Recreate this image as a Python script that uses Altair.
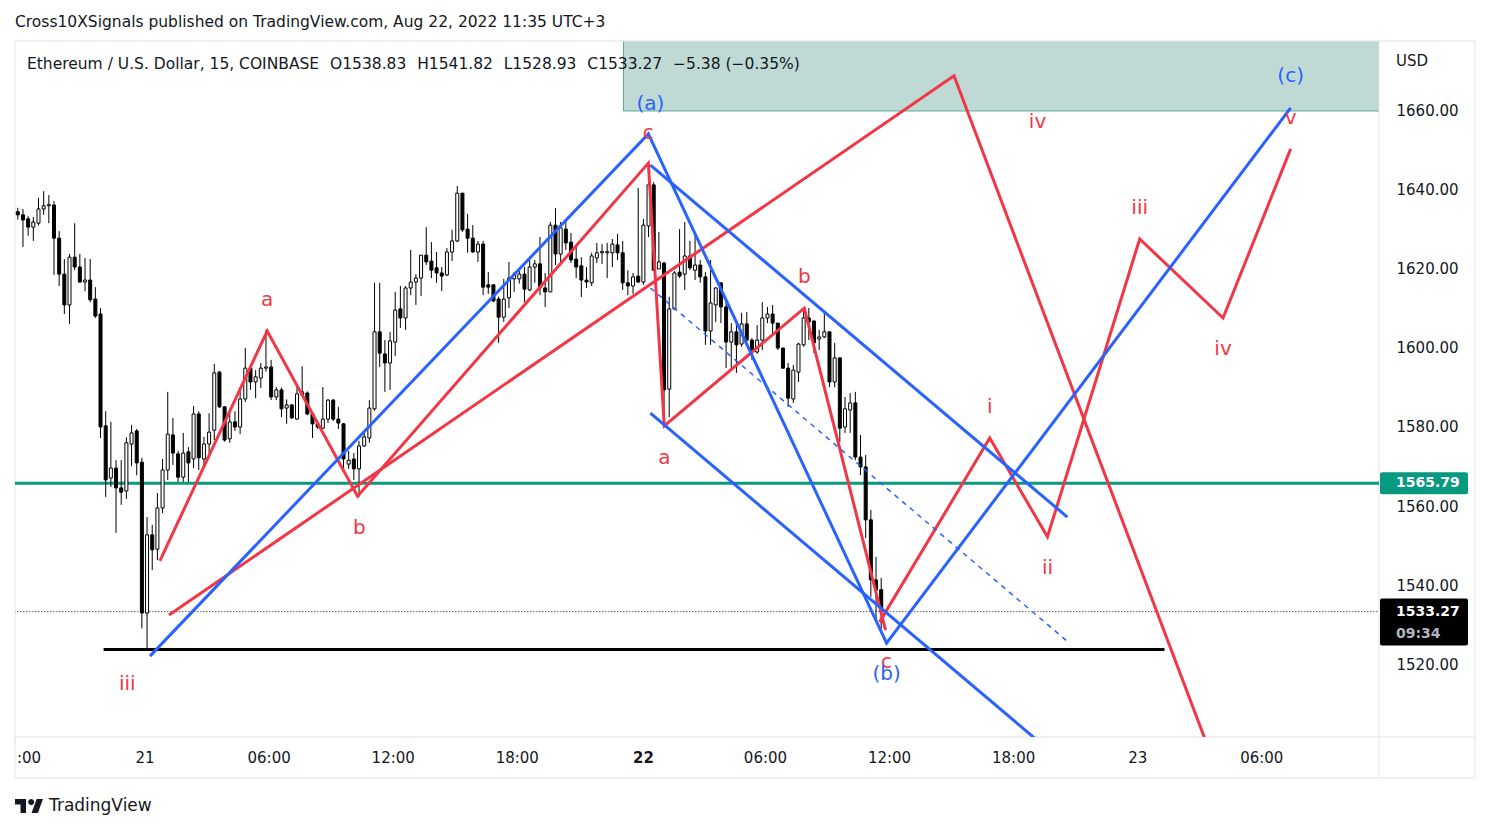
import altair as alt
import pandas as pd

# ---------------- data ----------------
# 15-minute candles, first bar Aug 20 17:45 (UTC+3); time in hours relative to Aug 21 00:00
FIRST_BAR_HOUR = -6.25
BAR_HOURS = 0.25

opens = [1634.5, 1633.7, 1632.7, 1630.6, 1631.6, 1635.2, 1636.0, 1636.2, 1627.8, 1618.7,
         1610.9, 1623.0, 1620.5, 1616.7, 1617.2, 1612.4, 1608.6, 1580.3, 1567.1, 1569.6,
         1564.6, 1563.8, 1575.7, 1579.0, 1571.1, 1532.9, 1552.7, 1549.1, 1559.5, 1569.1,
         1578.0, 1573.2, 1567.3, 1573.7, 1571.9, 1583.3, 1571.9, 1575.7, 1579.2, 1593.9,
         1585.1, 1577.0, 1581.3, 1580.0, 1587.1, 1594.9, 1591.4, 1592.4, 1594.9, 1595.2,
         1587.6, 1589.4, 1584.8, 1585.6, 1582.0, 1588.1, 1588.6, 1583.3, 1580.8, 1579.7,
         1582.0, 1586.8, 1582.0, 1580.8, 1570.6, 1571.9, 1569.4, 1575.2, 1577.2, 1584.6,
         1604.1, 1598.5, 1596.2, 1601.5, 1609.9, 1607.6, 1615.2, 1616.7, 1617.7, 1623.5,
         1622.0, 1620.3, 1619.0, 1618.5, 1624.3, 1627.1, 1639.2, 1630.1, 1627.8, 1624.3,
         1626.3, 1616.0, 1616.0, 1612.4, 1607.8, 1612.7, 1617.5, 1617.5, 1618.7, 1614.7,
         1620.5, 1621.3, 1615.2, 1614.2, 1631.1, 1623.8, 1630.1, 1626.8, 1622.5, 1620.8,
         1617.2, 1616.5, 1622.8, 1624.1, 1624.1, 1624.1, 1626.1, 1624.1, 1616.5, 1615.7,
         1618.2, 1616.7, 1630.9, 1641.3, 1620.0, 1621.5, 1589.6, 1609.9, 1619.2, 1618.7,
         1623.3, 1619.7, 1621.0, 1618.0, 1604.3, 1610.9, 1616.5, 1610.4, 1601.5, 1604.1,
         1601.0, 1606.1, 1602.0, 1599.0, 1602.0, 1607.6, 1608.6, 1606.3, 1600.0, 1594.9,
         1587.1, 1593.9, 1600.8, 1607.6, 1606.8, 1602.3, 1602.8, 1604.1, 1591.4, 1597.5,
         1580.0, 1584.3, 1586.1, 1572.4, 1569.9, 1556.5, 1541.3, 1538.83]
highs = [1635.5, 1635.2, 1633.4, 1633.2, 1638.0, 1639.7, 1638.7, 1637.2, 1629.6, 1622.5,
         1623.8, 1631.6, 1623.8, 1622.8, 1622.5, 1615.4, 1610.1, 1584.0, 1581.3, 1571.6,
         1571.6, 1577.4, 1580.5, 1579.5, 1572.2, 1557.2, 1555.2, 1563.3, 1571.9, 1588.9,
         1582.3, 1574.0, 1578.5, 1574.9, 1585.3, 1584.0, 1577.5, 1583.5, 1596.0, 1594.2,
         1585.3, 1584.1, 1584.0, 1589.6, 1600.0, 1595.7, 1594.4, 1596.2, 1604.6, 1597.0,
         1590.1, 1590.0, 1587.0, 1585.8, 1590.4, 1595.4, 1589.0, 1583.5, 1581.5, 1590.1,
         1587.1, 1587.1, 1585.1, 1581.0, 1573.9, 1573.4, 1576.5, 1578.7, 1586.8, 1616.5,
         1616.5, 1602.0, 1604.1, 1614.2, 1615.7, 1615.7, 1624.8, 1618.7, 1623.5, 1630.6,
         1626.8, 1624.3, 1620.5, 1625.3, 1629.9, 1641.0, 1639.2, 1633.9, 1631.1, 1627.1,
         1627.1, 1619.2, 1616.0, 1613.0, 1617.5, 1621.8, 1619.2, 1619.5, 1620.5, 1622.3,
         1622.3, 1628.1, 1619.0, 1631.9, 1635.4, 1631.9, 1632.4, 1629.1, 1625.8, 1623.0,
         1620.5, 1624.1, 1626.6, 1626.3, 1626.6, 1627.6, 1628.9, 1627.1, 1619.7, 1619.0,
         1640.5, 1632.7, 1646.8, 1642.0, 1629.4, 1621.8, 1613.0, 1619.5, 1630.1, 1631.9,
         1627.1, 1629.4, 1622.3, 1619.2, 1622.3, 1615.4, 1616.5, 1612.2, 1606.3, 1606.6,
         1608.9, 1609.1, 1602.5, 1605.8, 1611.6, 1610.4, 1610.9, 1606.3, 1600.0, 1596.2,
         1595.7, 1601.3, 1610.1, 1610.1, 1607.1, 1604.6, 1609.1, 1604.1, 1601.3, 1597.5,
         1587.6, 1588.6, 1588.9, 1578.0, 1572.9, 1559.0, 1547.1, 1541.82]
lows = [1632.5, 1625.6, 1628.4, 1627.1, 1631.0, 1633.7, 1631.6, 1618.5, 1615.7, 1608.6,
        1606.1, 1619.7, 1616.5, 1614.4, 1611.6, 1607.6, 1577.2, 1562.3, 1564.8, 1553.2,
        1560.3, 1561.8, 1570.1, 1567.8, 1529.0, 1523.5, 1543.8, 1546.3, 1558.2, 1566.6,
        1570.4, 1566.1, 1566.1, 1566.1, 1569.6, 1569.1, 1569.6, 1573.2, 1576.7, 1584.8,
        1576.3, 1576.0, 1579.0, 1578.2, 1586.3, 1589.4, 1587.3, 1589.9, 1594.0, 1586.8,
        1586.8, 1582.5, 1580.8, 1582.0, 1581.8, 1588.0, 1583.0, 1577.2, 1579.5, 1579.5,
        1581.0, 1581.5, 1579.5, 1569.1, 1569.4, 1566.6, 1562.3, 1575.0, 1576.0, 1584.1,
        1595.2, 1588.9, 1589.4, 1598.0, 1605.1, 1604.6, 1613.4, 1610.9, 1613.2, 1621.0,
        1617.7, 1616.5, 1614.4, 1618.2, 1622.0, 1626.8, 1629.4, 1624.1, 1624.1, 1621.8,
        1613.4, 1613.7, 1611.6, 1601.3, 1606.6, 1610.1, 1614.2, 1616.3, 1611.6, 1614.4,
        1616.5, 1613.4, 1610.4, 1614.2, 1621.0, 1621.5, 1624.8, 1621.5, 1617.7, 1612.9,
        1615.2, 1615.7, 1621.5, 1621.3, 1617.7, 1620.5, 1622.3, 1614.7, 1613.4, 1613.7,
        1616.5, 1616.0, 1628.1, 1619.5, 1620.0, 1581.0, 1582.5, 1609.6, 1617.7, 1614.7,
        1619.7, 1617.2, 1616.5, 1600.8, 1600.8, 1606.6, 1606.3, 1594.9, 1594.4, 1593.7,
        1600.3, 1601.5, 1597.0, 1598.5, 1599.5, 1606.3, 1603.5, 1599.5, 1594.7, 1585.1,
        1586.1, 1591.4, 1600.3, 1602.0, 1598.7, 1599.5, 1602.5, 1590.1, 1590.1, 1576.2,
        1578.5, 1578.5, 1571.6, 1567.8, 1551.9, 1537.0, 1531.1, 1528.93]
closes = [1633.7, 1632.4, 1630.6, 1631.9, 1635.2, 1636.0, 1636.2, 1627.8, 1618.7, 1610.9,
          1623.0, 1620.5, 1616.7, 1617.2, 1612.2, 1608.1, 1580.0, 1566.6, 1569.6, 1564.6,
          1563.5, 1576.0, 1578.5, 1570.9, 1532.9, 1552.7, 1548.9, 1559.5, 1569.1, 1578.2,
          1573.4, 1567.3, 1573.4, 1570.9, 1583.3, 1572.2, 1575.7, 1578.7, 1593.7, 1585.1,
          1576.7, 1581.3, 1580.0, 1587.1, 1594.9, 1591.4, 1592.7, 1594.9, 1595.1, 1587.6,
          1589.4, 1584.6, 1585.6, 1582.3, 1588.4, 1588.9, 1583.3, 1580.8, 1580.0, 1582.0,
          1586.8, 1582.0, 1581.0, 1571.9, 1571.6, 1569.4, 1575.2, 1577.5, 1584.8, 1604.1,
          1598.7, 1596.2, 1601.8, 1609.6, 1607.6, 1615.2, 1616.7, 1617.7, 1623.5, 1621.8,
          1619.7, 1619.0, 1618.2, 1624.3, 1627.1, 1639.2, 1629.9, 1627.8, 1624.3, 1626.3,
          1615.4, 1615.4, 1611.9, 1607.8, 1612.4, 1617.7, 1618.7, 1618.7, 1614.9, 1620.5,
          1621.3, 1615.2, 1614.2, 1631.1, 1623.8, 1630.4, 1626.6, 1622.3, 1620.5, 1617.2,
          1616.7, 1623.3, 1624.1, 1624.2, 1624.2, 1626.3, 1624.1, 1616.5, 1615.7, 1618.0,
          1616.7, 1631.1, 1641.3, 1619.7, 1621.8, 1589.4, 1609.9, 1619.0, 1618.2, 1623.3,
          1620.3, 1621.0, 1618.0, 1604.3, 1611.4, 1615.2, 1610.4, 1601.5, 1604.1, 1600.8,
          1606.1, 1602.0, 1599.0, 1602.0, 1607.6, 1608.6, 1606.3, 1600.0, 1594.9, 1587.3,
          1594.4, 1601.0, 1607.6, 1606.6, 1601.3, 1602.8, 1604.1, 1591.4, 1597.5, 1579.7,
          1584.6, 1586.1, 1572.4, 1569.9, 1556.5, 1541.3, 1538.7, 1533.27]

# Elliott-wave drawings: (hour, price) vertices
red_wave_h = [0.62, 5.81, 10.18, 24.24, 25.01, 31.78, 35.71]
red_wave_p = [1546.1, 1604.3, 1562.5, 1646.8, 1580.3, 1610.1, 1528.6]
red_impulse_h = [35.42, 40.75, 43.54, 48.0, 52.03, 55.3]
red_impulse_p = [1530.6, 1577.2, 1552.2, 1627.6, 1607.6, 1650.4]
red_big_h = [1.06, 39.02, 51.23]
red_big_p = [1532.4, 1668.9, 1500.0]
blue_wave_h = [0.14, 24.24, 35.76, 55.3]
blue_wave_p = [1522.0, 1654.2, 1525.3, 1660.8]
blue_upper_h = [24.34, 44.5]
blue_upper_p = [1646.3, 1557.2]
blue_lower_h = [24.34, 43.2]
blue_lower_p = [1583.5, 1500.0]
blue_mid_h = [24.34, 44.6]
blue_mid_p = [1615.2, 1525.3]
support_h = [-2.1, 49.2]
support_p = 1523.7
green_level = 1565.79
last_close = 1533.27
zone_h = [23.04, 59.6]
zone_p = [1660.0, 1680.0]

red_labels = ["a", "b", "c", "a", "b", "c", "iii", "i", "ii", "iii", "iv", "iv", "v"]
red_label_h = [5.81, 10.27, 24.24, 25.01, 31.78, 35.76, -0.96, 40.75, 43.54, 48.0, 52.03, 43.06, 55.3]
red_label_p = [1612.2, 1554.4, 1654.4, 1572.2, 1618.0, 1520.5, 1514.9, 1585.1, 1544.3, 1635.4, 1599.7, 1657.2, 1658.2]
blue_labels = ["(a)", "(b)", "(c)"]
blue_label_h = [24.34, 35.76, 55.3]
blue_label_p = [1661.8, 1517.5, 1668.9]

price_ticks = [1520, 1540, 1560, 1580, 1600, 1620, 1640, 1660]
time_ticks = [-6, 0, 6, 12, 18, 24, 30, 36, 42, 48, 54]
time_labels = [":00", "21", "06:00", "12:00", "18:00", "22", "06:00", "12:00", "18:00", "23", "06:00"]
time_bold = [False, False, False, False, False, True, False, False, False, False, False]

header = "Cross10XSignals published on TradingView.com, Aug 22, 2022 11:35 UTC+3"
SP = "\u2002\u2009"
legend_text = ("Ethereum / U.S. Dollar, 15, COINBASE" + SP + "O1538.83" + SP + "H1541.82" + SP +
               "L1528.93" + SP + "C1533.27" + SP + "\u22125.38 (\u22120.35%)")
countdown = "09:34"

# ---------------- styling ----------------
RED = "#f23645"
BLUE = "#2962ff"
TEAL = "#089981"
INK = "#131722"
FRAME = "#e0e3eb"
FONT = "DejaVu Sans"
W, H = 1364, 696

X_DOM = [-6.144, 59.33]
Y_DOM = [1501.52, 1677.72]
xs = alt.Scale(domain=X_DOM, nice=False, zero=False)
ys = alt.Scale(domain=Y_DOM, nice=False, zero=False)
y_axis = alt.Axis(orient="right", values=price_ticks, format=".2f", ticks=False, domain=False,
                  grid=False, labelPadding=17, labelFontSize=15, labelColor=INK, labelFont=FONT,
                  title=None)

# ---------------- tables ----------------
n = len(opens)
candles = pd.DataFrame({
    "t": [FIRST_BAR_HOUR + i * BAR_HOURS for i in range(n)],
    "open": opens, "high": highs, "low": lows, "close": closes,
})
candles["dir"] = ["up" if c >= o else "down" for o, c in zip(opens, closes)]
candles["b0"] = [min(o, c) for o, c in zip(opens, closes)]
candles["b1"] = [max(max(o, c), min(o, c) + 0.3) for o, c in zip(opens, closes)]


def seg_df(name, hs, ps, color):
    return pd.DataFrame({"seg": name, "i": list(range(len(hs))), "h": hs, "p": ps, "col": color})


lines = pd.concat([
    seg_df("rw", red_wave_h, red_wave_p, RED),
    seg_df("ri", red_impulse_h, red_impulse_p, RED),
    seg_df("rb", red_big_h, red_big_p, RED),
    seg_df("bw", blue_wave_h, blue_wave_p, BLUE),
    seg_df("bu", blue_upper_h, blue_upper_p, BLUE),
    seg_df("bl", blue_lower_h, blue_lower_p, BLUE),
], ignore_index=True)
mid = seg_df("bm", blue_mid_h, blue_mid_p, BLUE)
support = pd.DataFrame({"h": support_h, "p": [support_p, support_p]})
levels = pd.DataFrame({"h": [X_DOM[0] - 1, X_DOM[1] + 1], "g": [green_level] * 2, "c": [last_close] * 2})
zone = pd.DataFrame({"h0": [zone_h[0]], "h1": [zone_h[1]], "p0": [zone_p[0]], "p1": [zone_p[1]]})
labels = pd.DataFrame({
    "txt": red_labels + blue_labels,
    "h": red_label_h + blue_label_h,
    "p": red_label_p + blue_label_p,
    "col": [RED] * len(red_labels) + [BLUE] * len(blue_labels),
})
tags = pd.DataFrame({
    "price": [green_level, last_close],
    "txt": [f"{green_level:.2f}", f"{last_close:.2f}"],
    "top": [green_level + 11 / 3.95, last_close + 13 / 3.95],
    "bot": [green_level - 11 / 3.95, last_close - 34 / 3.95],
    "col": [TEAL, "#000000"],
})
tticks = pd.DataFrame({"h": time_ticks, "txt": time_labels, "bold": time_bold})

X = lambda f: alt.X(f, scale=xs, axis=None)
Y = lambda f: alt.Y(f, scale=ys, axis=y_axis)

# ---------------- layers ----------------
zone_layer = alt.Chart(zone).mark_rect(
    fill="#bfdad5", stroke="#5fa89b", strokeWidth=1, clip=True
).encode(x=X("h0:Q"), x2="h1:Q", y=Y("p0:Q"), y2="p1:Q")

wicks = alt.Chart(candles).mark_rule(color="#000000", strokeWidth=1, clip=True).encode(
    x=X("t:Q"), y=Y("low:Q"), y2="high:Q")
bodies = alt.Chart(candles).mark_bar(size=3, stroke="#000000", strokeWidth=1, clip=True).encode(
    x=X("t:Q"), y=Y("b0:Q"), y2="b1:Q",
    fill=alt.Fill("dir:N", scale=alt.Scale(domain=["up", "down"], range=["#ffffff", "#000000"]), legend=None),
)

green_line = alt.Chart(levels).mark_line(color=TEAL, strokeWidth=3, clip=True).encode(x=X("h:Q"), y=Y("g:Q"))
dotted = alt.Chart(levels).mark_line(color=INK, strokeWidth=1, strokeDash=[1, 2], clip=True).encode(
    x=X("h:Q"), y=Y("c:Q"))
support_line = alt.Chart(support).mark_line(color="#000000", strokeWidth=3, clip=True).encode(
    x=X("h:Q"), y=Y("p:Q"))

wave_lines = alt.Chart(lines).mark_line(strokeWidth=3, clip=True).encode(
    x=X("h:Q"), y=Y("p:Q"), detail="seg:N", order="i:Q",
    color=alt.Color("col:N", scale=None))
mid_line = alt.Chart(mid).mark_line(color=BLUE, strokeWidth=1.5, strokeDash=[5, 5], clip=True).encode(
    x=X("h:Q"), y=Y("p:Q"))

label_layer = alt.Chart(labels).mark_text(font=FONT, fontSize=20, baseline="middle", align="center").encode(
    x=X("h:Q"), y=Y("p:Q"), text="txt:N", color=alt.Color("col:N", scale=None))

tag_boxes = alt.Chart(tags).mark_rect(cornerRadius=2).encode(
    x=alt.value(W + 1), x2=alt.value(W + 89), y=Y("top:Q"), y2="bot:Q",
    color=alt.Color("col:N", scale=None))
tag_text = alt.Chart(tags).mark_text(font=FONT, fontSize=14, fontWeight="bold", color="#ffffff",
                                     align="left", baseline="middle").encode(
    x=alt.value(W + 17), y=Y("price:Q"), text="txt:N")
count_text = alt.Chart(pd.DataFrame({"price": [last_close], "txt": [countdown]})).mark_text(
    font=FONT, fontSize=14, fontWeight="bold", color="#b2b5be", align="left", baseline="middle", dy=22
).encode(x=alt.value(W + 17), y=Y("price:Q"), text="txt:N")

# time-axis labels drawn from the tick arrays
tick_base = alt.Chart(tticks)
first_tick = tick_base.transform_filter("datum.h < -5").mark_text(
    font=FONT, fontSize=15, color=INK, align="left", baseline="middle", dx=-6
).encode(x=X("h:Q"), y=alt.value(H + 21), text="txt:N")
normal_ticks = tick_base.transform_filter("datum.h > -5 && !datum.bold").mark_text(
    font=FONT, fontSize=15, color=INK, align="center", baseline="middle", dx=-2
).encode(x=X("h:Q"), y=alt.value(H + 21), text="txt:N")
bold_ticks = tick_base.transform_filter("datum.bold").mark_text(
    font=FONT, fontSize=15, fontWeight="bold", color=INK, align="center", baseline="middle"
).encode(x=X("h:Q"), y=alt.value(H + 21), text="txt:N")


def txt(s, x, y, size=15, weight="normal", color=INK, align="left"):
    return alt.Chart(alt.Data(values=[{}])).mark_text(
        text=s, font=FONT, fontSize=size, fontWeight=weight, color=color, align=align, baseline="middle"
    ).encode(x=alt.value(x), y=alt.value(y))


def rule(x, x2, y, y2, color=FRAME, width=1):
    return alt.Chart(alt.Data(values=[{}])).mark_rule(color=color, strokeWidth=width).encode(
        x=alt.value(x), x2=alt.value(x2), y=alt.value(y), y2=alt.value(y2))


FW, FH = 1460, 737
frame = [
    rule(0, FW, 0, 0), rule(0, FW, FH, FH), rule(0, 0, 0, FH), rule(FW, FW, 0, FH),
    rule(W, W, 0, FH), rule(0, FW, H, H),
]

logo_path = ("M-0.211,0.507 L-0.606,0.507 L-0.606,-0.113 L-1,-0.113 L-1,-0.507 L-0.211,-0.507 Z "
             "M0.183,0.507 L0.634,0.507 L1,-0.507 L0.549,-0.507 Z "
             "M0.380,-0.282 L0.314,-0.123 L0.155,-0.057 L-0.004,-0.123 L-0.070,-0.282 "
             "L-0.004,-0.441 L0.155,-0.507 L0.314,-0.441 Z")
logo = alt.Chart(alt.Data(values=[{}])).mark_point(
    shape=logo_path, filled=True, color=INK, opacity=1, size=784, strokeWidth=0
).encode(x=alt.value(14), y=alt.value(765))

chart = alt.layer(
    zone_layer, *frame, green_line, dotted, support_line, wicks, bodies,
    wave_lines, mid_line, label_layer, tag_boxes, tag_text, count_text,
    first_tick, normal_ticks, bold_ticks,
    txt(header, 0, -19, size=15.5), txt(legend_text, 12, 23, size=15.5), txt("USD", W + 17, 20),
    logo, txt("TradingView", 34, 765, size=17),
).properties(
    width=W, height=H,
    padding={"left": 7, "top": 33, "right": 103, "bottom": 80},
    autosize=alt.AutoSizeParams(type="none"),
    background="#ffffff",
).configure_view(stroke=None)

chart.save("out.html", embed_options={"renderer": "svg", "actions": False})
